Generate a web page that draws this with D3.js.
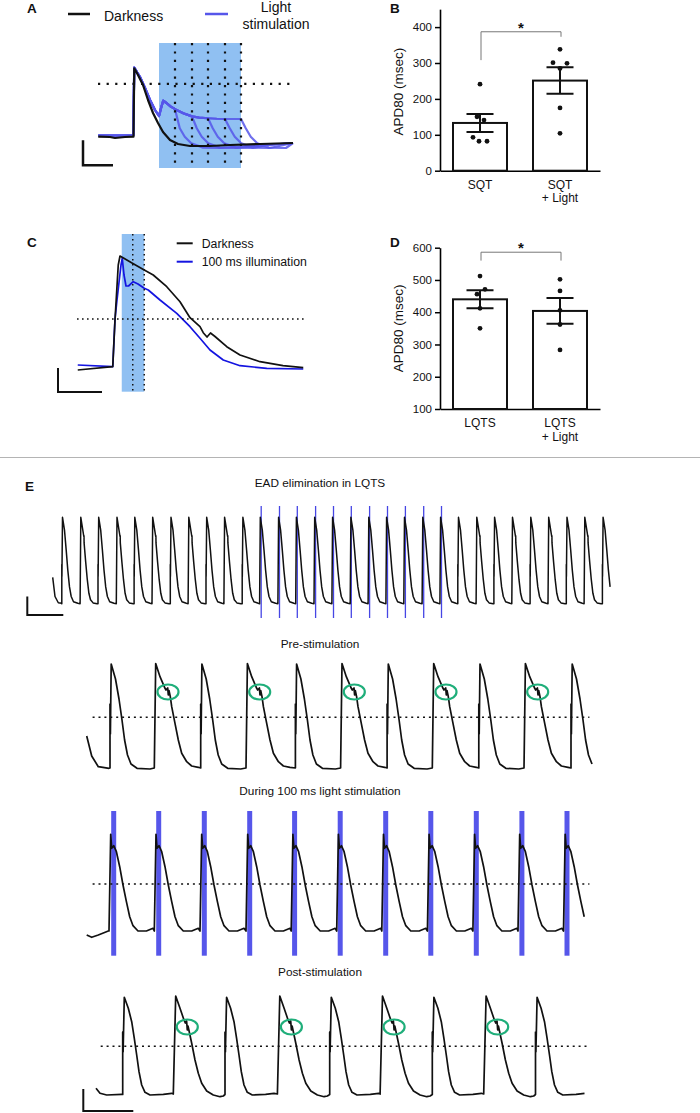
<!DOCTYPE html>
<html>
<head>
<meta charset="utf-8">
<script src="https://cdn.jsdelivr.net/npm/d3@7"></script>
<style>
  body { margin: 0; background: #fff; }
  text { font-family: "Liberation Sans", Arial, Helvetica, sans-serif; }
</style>
</head>
<body>
<svg id="fig" width="700" height="1113"></svg>
<script>
// ---------- panel A : [ms, mV] ----------
var aDark = [[1,-79.5],[48,-80],[68,-81.6],[108,-80],[142,-79.5],[145,30],[160,19.2],[180,3.2],[200,-20.8],[220,-41.6],[240,-57.6],[260,-72],[288,-84.8],[320,-91.2],[368,-94.4],[448,-94.4],[528,-92.8],[648,-91.2],[780,-89.6]];
var aLight = [[1,-77.6],[141,-77.6],[145,31],[168,16],[188,-1.6],[208,-20.8],[228,-36.8],[244,-46.4],[252,-34],[261,-21.9],[275,-26],[290,-31],[308,-35.5],[341,-42],[376,-47],[405,-49],[440,-50],[475,-50.8],[508,-51.2],[540,-51.2],[572,-51.2]];
var aRelease = [308, 376, 440, 508, 572];          // light off for each trace
var aTail = [[19,-66],[39,-79.5],[65,-90],[112,-97],[180,-97.6]]; // [ms after light off, mV]
var aTailEnd = [[675,-92.8],[780,-89.6]];
var aLightOn = 244, aLightOff = 572, aLevel = 5;
var aBar = [-60, 120, -125, 40];                   // t0, ms, v0, mV

// ---------- panel B ----------
var bGroups = ["SQT", "SQT + Light"];
var bMean = [133, 251];
var bSem = [25, 37];
var bPoints = [[241,150,141,93,82,82],[338,301,299,285,175,104]];
var bJitter = [[0,-3,4,-7,-1,7],[0,-7,7,0,0,0]];
var bTicks = [0,100,200,300,400];
var bBracket = [387, 308, 373];

// ---------- panel C : [ms, mV] ----------
var cDark = [[3,-80],[143,-76.7],[152,-30],[165,25],[172,34],[220,27],[269,20],[305,15],[359,3.3],[412,-11.7],[452,-27.7],[492,-36.7],[505,-42.7],[520,-47],[534,-43],[552,-46.5],[599,-56.7],[652,-65],[732,-71.7],[824,-75.7],[905,-77.7]];
var cLight = [[3,-75],[143,-76.7],[148,-50],[152,-29],[160,-10],[176,25],[181,31.7],[188,15],[196,4],[206,4],[225,8.3],[244,6],[269,1.7],[285,0],[332,-10],[399,-23.3],[452,-36.7],[492,-48.3],[532,-60],[585,-70],[652,-75.7],[759,-78.3],[905,-79]];
var cLightOn = 179, cLightOff = 269, cMid = 223, cLevel = -29;
var cBar = [-76, 176, -102, 24];

// ---------- panel D ----------
var dGroups = ["LQTS", "LQTS + Light"];
var dMean = [440, 404];
var dSem = [28, 40];
var dPoints = [[512,471,456,412,350],[502,466,406,362,283]];
var dJitter = [[0,5,-3,0,0],[0,0,0,0,0]];
var dTicks = [100,200,300,400,500,600];
var dBracket = [586, 560, 560];

// ---------- panel E : beat onsets [ms] and beat shapes [ms, mV] ----------
var topLead = [[0,-51],[115,-75],[280,-82.8],[450,-83.5]];
var topOnsets = [455,1370,2265,3180,4070,4965,5880,6770,7665,8560,9475,10345,11260,12150,13065,13960,14875,15770,16660,17555,18470,19360,20255,21170,22060,22955,23870,24765,25680,26570,27485];
var topKinds = "PEPEPEPEPEPLLLLLLLLLLLPEPEPEPEP";
var topFlashes = [10425,11340,12230,13145,14040,14930,15845,16740,17635,18550,19440];
var topPlain = [[0,-84],[0,-35],[6,-50],[35,24],[135,8],[220,-17],[300,-42],[385,-63],[470,-75],[585,-81.5],[800,-83.5]];
var topEad = [[0,-84],[35,24],[135,8],[185,0],[195,1],[200,-8],[280,-32],[360,-54],[440,-71],[520,-79],[650,-83],[850,-84]];
var topLit = [[0,-84],[35,24],[135,8],[220,-17],[300,-42],[385,-63],[470,-75],[585,-81.5],[800,-83.5]];
var topEnd = 27900;
var topBar = [-1270, 1800, -98, 23];

var preLead = [[0,-52],[100,-72],[232,-82.7],[446,-84.3]];
var preOnsets = [466,1352,2280,3186,4174,5078,6008,6912,7842,8746,9686];
var preKinds = "PEPEPEPEPEP";
var prePlain = [[0,-84],[0,-20],[8,-50],[24,20],[110,5],[180,-15],[240,-36],[292,-56],[350,-71],[420,-80],[540,-84.3],[800,-85]];
var preEad = [[0,-84],[28,20.5],[114,7.3],[214,-4.3],[234,-6],[268,-4],[280,-11],[294,-6.5],[320,-12.7],[348,-22.7],[414,-39.3],[480,-56],[548,-69.3],[648,-77.7],[748,-82],[880,-83.3]];
var preEadMark = [274, -8];
var preEnd = 10118, preLevel = -33.3;

var durLead = [[0,-88],[100,-90.3],[232,-88],[432,-84]];
var durOnsets = [446,1352,2266,3186,4090,5000,5902,6814,7724,8626,9536];
var durKinds = "DDDDDDDDDDD";
var durBeat = [[0,-84],[34,12.7],[54,-1.3],[94,1.3],[148,-4.7],[214,-19.7],[280,-38],[348,-54.7],[414,-69.7],[480,-78.7],[580,-84],[748,-84],[880,-81.3]];
var durPulses = [490,1390,2302,3210,4108,5020,5930,6832,7742,8654,9556];
var pulseMs = 100;
var durEnd = 9980, durLevel = -37;

var postLead = [[0,-78.3],[80,-83.3],[214,-85],[514,-84.3]];
var postOnsets = [534,1546,2580,3628,4674,5682,6726,7754,8790];
var postKinds = "PEPEPEPEP";
var postPlain = [[0,-84.5],[0,-22],[8,-42],[32,12.7],[112,1.7],[180,-11.7],[232,-28.3],[280,-45],[326,-61.7],[380,-75],[446,-82.3],[546,-85],[812,-84.3],[980,-83.3]];
var postEad = [[0,-84],[48,14],[134,1.7],[214,-10],[240,-13],[266,-11],[280,-20],[294,-16],[320,-22],[368,-33.3],[434,-50],[500,-63.3],[568,-73.3],[668,-81],[800,-85],[934,-86.7],[1000,-86]];
var postEadMark = [280, -17];
var postEnd = 9776, postLevel = -36.3;
var postBar = [-254, 1000, -101, 22];

// ---------- drawing ----------
var svg = d3.select("#fig");
var BLUE = "#5656ea", GREEN = "#1fae7a";

function txt(x, y, s, size, opts) {
  opts = opts || {};
  return svg.append("text").attr("x", x).attr("y", y)
    .attr("font-size", size)
    .attr("font-weight", opts.bold ? "bold" : null)
    .attr("text-anchor", opts.anchor || "start")
    .attr("fill", "#111")
    .text(s);
}

function lineGen(xs, ys) {
  return d3.line().x(function(d) { return xs(d[0]); }).y(function(d) { return ys(d[1]); });
}

function buildTrace(lead, onsets, kinds, shapes, endT) {
  var pts = lead.slice();
  onsets.forEach(function(t0, i) {
    var stop = i + 1 < onsets.length ? onsets[i + 1] : endT;
    shapes[kinds[i]].forEach(function(p) {
      if (t0 + p[0] < stop) pts.push([t0 + p[0], p[1]]);
    });
  });
  return pts;
}

function dotted(xs, ys, t1, t2, v, dash, w) {
  svg.append("line")
    .attr("x1", xs(t1)).attr("x2", xs(t2)).attr("y1", ys(v)).attr("y2", ys(v))
    .attr("stroke", "#111").attr("stroke-width", w).attr("stroke-dasharray", dash);
}

function scaleBar(xs, ys, bar, w) {
  svg.append("path")
    .attr("d", "M" + xs(bar[0]) + "," + ys(bar[2] + bar[3]) +
               "V" + ys(bar[2]) + "H" + xs(bar[0] + bar[1]))
    .attr("fill", "none").attr("stroke", "#111").attr("stroke-width", w);
}

// ===== A =====
var ax = d3.scaleLinear().domain([0, 780]).range([98, 293]);
var ay = d3.scaleLinear().domain([-80, 32]).range([137, 67]);
var aLine = lineGen(ax, ay);

txt(27, 13, "A", 13.5, {bold: true});
svg.append("line").attr("x1", 68).attr("x2", 90).attr("y1", 14).attr("y2", 14)
  .attr("stroke", "#111").attr("stroke-width", 2.5);
txt(104, 20.5, "Darkness", 14);
svg.append("line").attr("x1", 205).attr("x2", 228).attr("y1", 14).attr("y2", 14)
  .attr("stroke", BLUE).attr("stroke-width", 2.5);
txt(276, 11.5, "Light", 14, {anchor: "middle"});
txt(276, 29, "stimulation", 14, {anchor: "middle"});

svg.append("rect")
  .attr("x", ax(aLightOn)).attr("width", ax(aLightOff) - ax(aLightOn))
  .attr("y", 43).attr("height", 125).attr("fill", "#90c0f2");

aRelease.forEach(function(r) {
  var pts = aLight.filter(function(p) { return p[0] <= r; });
  aTail.forEach(function(p) { pts.push([r + p[0], p[1]]); });
  aTailEnd.forEach(function(p) { if (p[0] > pts[pts.length - 1][0]) pts.push(p); });
  svg.append("path").attr("d", aLine(pts))
    .attr("fill", "none").attr("stroke", BLUE).attr("stroke-opacity", 0.85)
    .attr("stroke-width", 2.2).attr("stroke-linejoin", "round");
});
svg.append("path").attr("d", aLine(aDark))
  .attr("fill", "none").attr("stroke", "#111").attr("stroke-width", 2.2).attr("stroke-linejoin", "round");

aRelease.forEach(function(r) {
  svg.append("line").attr("x1", ax(r)).attr("x2", ax(r)).attr("y1", 43).attr("y2", 168)
    .attr("stroke", "#111").attr("stroke-width", 2.2).attr("stroke-dasharray", "2.2,6.2");
});
dotted(ax, ay, 0, 780, aLevel, "2.2,6.4", 2.2);
scaleBar(ax, ay, aBar, 2.5);

// ===== bar charts B and D =====
function barPanel(cfg) {
  var x = d3.scaleBand().domain(cfg.groups).range([440, 600]).paddingInner(0.325).paddingOuter(0.1625);
  var y = d3.scaleLinear().domain(cfg.domain).range(cfg.range);
  var g = svg.append("g");

  var yAxis = g.append("g").attr("transform", "translate(440,0)")
    .call(d3.axisLeft(y).tickValues(cfg.ticks).tickSize(5).tickSizeOuter(0).tickPadding(3));
  yAxis.select(".domain").attr("stroke-width", 1.6);
  yAxis.selectAll(".tick line").attr("stroke-width", 1.5);
  yAxis.selectAll("text").attr("font-size", 11.5).attr("fill", "#111")
    .attr("font-family", '"Liberation Sans", Arial, sans-serif');

  var xAxis = g.append("g").attr("transform", "translate(0," + y(cfg.domain[0]) + ")")
    .call(d3.axisBottom(x).tickSize(0).tickSizeOuter(0).tickFormat(""));
  xAxis.select(".domain").attr("stroke-width", 1.6);

  cfg.groups.forEach(function(grp, i) {
    var cx = x(grp) + x.bandwidth() / 2;
    var parts = grp.split(" + ");
    var t = g.append("text").attr("x", cx).attr("y", cfg.labelY)
      .attr("text-anchor", "middle").attr("font-size", 12).attr("fill", "#111");
    t.append("tspan").attr("x", cx).text(parts[0]);
    if (parts[1]) t.append("tspan").attr("x", cx).attr("dy", 13.7).text("+ " + parts[1]);

    g.append("rect")
      .attr("x", x(grp)).attr("width", x.bandwidth())
      .attr("y", y(cfg.mean[i])).attr("height", y(cfg.domain[0]) - y(cfg.mean[i]))
      .attr("fill", "#fff").attr("stroke", "#111").attr("stroke-width", 2);

    cfg.points[i].forEach(function(v, j) {
      g.append("circle").attr("cx", cx + cfg.jitter[i][j]).attr("cy", y(v))
        .attr("r", 2.4).attr("fill", "#111");
    });

    var hi = y(cfg.mean[i] + cfg.sem[i]), lo = y(cfg.mean[i] - cfg.sem[i]);
    g.append("path")
      .attr("d", "M" + cx + "," + hi + "V" + lo +
                 "M" + (cx - 13.5) + "," + hi + "H" + (cx + 13.5) +
                 "M" + (cx - 13.5) + "," + lo + "H" + (cx + 13.5))
      .attr("fill", "none").attr("stroke", "#111").attr("stroke-width", 2);
  });

  var x1 = x(cfg.groups[0]) + x.bandwidth() / 2 + 1;
  var x2 = x(cfg.groups[1]) + x.bandwidth() / 2 + 1;
  g.append("path")
    .attr("d", "M" + x1 + "," + y(cfg.bracket[1]) + "V" + y(cfg.bracket[0]) +
               "H" + x2 + "V" + y(cfg.bracket[2]))
    .attr("fill", "none").attr("stroke", "#777").attr("stroke-width", 1);
  g.append("text").attr("x", (x1 + x2) / 2).attr("y", y(cfg.bracket[0]) + 1)
    .attr("text-anchor", "middle").attr("font-size", 15).attr("font-weight", "bold")
    .attr("fill", "#111").text("*");

  g.append("text")
    .attr("transform", "translate(" + 403 + "," + cfg.titleY + ") rotate(-90)")
    .attr("text-anchor", "middle").attr("font-size", 13.5).attr("fill", "#111")
    .text("APD80 (msec)");
  txt(390, cfg.letterY, cfg.letter, 13.5, {bold: true});
}

barPanel({groups: bGroups, mean: bMean, sem: bSem, points: bPoints, jitter: bJitter,
  ticks: bTicks, domain: [0, 450], range: [170.7, 9.15], bracket: bBracket,
  labelY: 188.5, titleY: 91.7, letter: "B", letterY: 12.7});
barPanel({groups: dGroups, mean: dMean, sem: dSem, points: dPoints, jitter: dJitter,
  ticks: dTicks, domain: [100, 600], range: [409, 247.7], bracket: dBracket,
  labelY: 427, titleY: 328.3, letter: "D", letterY: 246.7});

// ===== C =====
var cx = d3.scaleLinear().domain([0, 908]).range([77, 304]);
var cy = d3.scaleLinear().domain([-80, 34]).range([370, 256]);
var cLine = lineGen(cx, cy);

txt(27, 246.7, "C", 13.5, {bold: true});
svg.append("rect")
  .attr("x", cx(cLightOn)).attr("width", cx(cLightOff) - cx(cLightOn))
  .attr("y", 234).attr("height", 157.7).attr("fill", "#90c0f2");
svg.append("path").attr("d", cLine(cLight))
  .attr("fill", "none").attr("stroke", "#1414e0").attr("stroke-width", 1.7).attr("stroke-linejoin", "round");
svg.append("path").attr("d", cLine(cDark))
  .attr("fill", "none").attr("stroke", "#111").attr("stroke-width", 1.7).attr("stroke-linejoin", "round");
[cMid, cLightOff].forEach(function(t) {
  svg.append("line").attr("x1", cx(t)).attr("x2", cx(t)).attr("y1", 234).attr("y2", 391.7)
    .attr("stroke", "#111").attr("stroke-width", 1.5).attr("stroke-dasharray", "1.6,3.4");
});
dotted(cx, cy, 0, 908, cLevel, "1.6,3.4", 1.5);
scaleBar(cx, cy, cBar, 2);

svg.append("line").attr("x1", 176.7).attr("x2", 192.7).attr("y1", 243.3).attr("y2", 243.3)
  .attr("stroke", "#111").attr("stroke-width", 2);
txt(201.7, 247.5, "Darkness", 12.3);
svg.append("line").attr("x1", 176.7).attr("x2", 192.7).attr("y1", 261.7).attr("y2", 261.7)
  .attr("stroke", "#1414e0").attr("stroke-width", 2);
txt(201.7, 265.8, "100 ms illumination", 12.3);

// separator
svg.append("line").attr("x1", 0).attr("x2", 700).attr("y1", 457.5).attr("y2", 457.5)
  .attr("stroke", "#b4b4b4").attr("stroke-width", 1);

// ===== E =====
txt(25, 491, "E", 13.5, {bold: true});
txt(320, 487, "EAD elimination in LQTS", 11.8, {anchor: "middle"});
txt(320, 648, "Pre-stimulation", 11.8, {anchor: "middle"});
txt(320, 795, "During 100 ms light stimulation", 11.8, {anchor: "middle"});
txt(320, 976, "Post-stimulation", 11.8, {anchor: "middle"});

function traceE(xs, ys, pts, w) {
  svg.append("path").attr("d", lineGen(xs, ys)(pts))
    .attr("fill", "none").attr("stroke", "#111").attr("stroke-width", w)
    .attr("stroke-linejoin", "round");
}

// top long recording
var tx = d3.scaleLinear().domain([0, 28000]).range([52.7, 612.7]);
var ty = d3.scaleLinear().domain([-85, 25]).range([604.5, 516.5]);
topFlashes.forEach(function(t) {
  svg.append("line").attr("x1", tx(t)).attr("x2", tx(t)).attr("y1", 506).attr("y2", 618)
    .attr("stroke", "#4646e4").attr("stroke-width", 1.3);
});
traceE(tx, ty, buildTrace(topLead, topOnsets, topKinds, {P: topPlain, E: topEad, L: topLit}, topEnd), 1.5);
scaleBar(tx, ty, topBar, 2);

// pre-stimulation
var px = d3.scaleLinear().domain([0, 10000]).range([86.7, 586.7]);
var py = d3.scaleLinear().domain([-85, 21]).range([769, 663]);
traceE(px, py, buildTrace(preLead, preOnsets, preKinds, {P: prePlain, E: preEad}, preEnd), 1.7);
dotted(px, py, 118, 10054, preLevel, "2,3.9", 1.6);
preOnsets.forEach(function(t0, i) {
  if (preKinds[i] !== "E") return;
  svg.append("ellipse").attr("cx", px(t0 + preEadMark[0])).attr("cy", py(preEadMark[1]))
    .attr("rx", 10.5).attr("ry", 7.5).attr("fill", "none")
    .attr("stroke", GREEN).attr("stroke-width", 2.2);
});

// during light stimulation
var dx = d3.scaleLinear().domain([0, 10000]).range([86.7, 586.7]);
var dy = d3.scaleLinear().domain([-85, 13]).range([932, 834]);
durPulses.forEach(function(t) {
  svg.append("rect").attr("x", dx(t)).attr("width", dx(t + pulseMs) - dx(t))
    .attr("y", 811).attr("height", 144.7).attr("fill", BLUE);
});
traceE(dx, dy, buildTrace(durLead, durOnsets, durKinds, {D: durBeat}, durEnd), 1.7);
dotted(dx, dy, 118, 10054, durLevel, "2,3.9", 1.6);

// post-stimulation
var qx = d3.scaleLinear().domain([0, 10000]).range([96, 596]);
var qy = d3.scaleLinear().domain([-85, 15]).range([1095, 995]);
traceE(qx, qy, buildTrace(postLead, postOnsets, postKinds, {P: postPlain, E: postEad}, postEnd), 1.7);
dotted(qx, qy, 94, 9868, postLevel, "2,3.9", 1.6);
postOnsets.forEach(function(t0, i) {
  if (postKinds[i] !== "E") return;
  svg.append("ellipse").attr("cx", qx(t0 + postEadMark[0])).attr("cy", qy(postEadMark[1]))
    .attr("rx", 10.5).attr("ry", 7.5).attr("fill", "none")
    .attr("stroke", GREEN).attr("stroke-width", 2.2);
});
scaleBar(qx, qy, postBar, 2);
</script>
</body>
</html>
